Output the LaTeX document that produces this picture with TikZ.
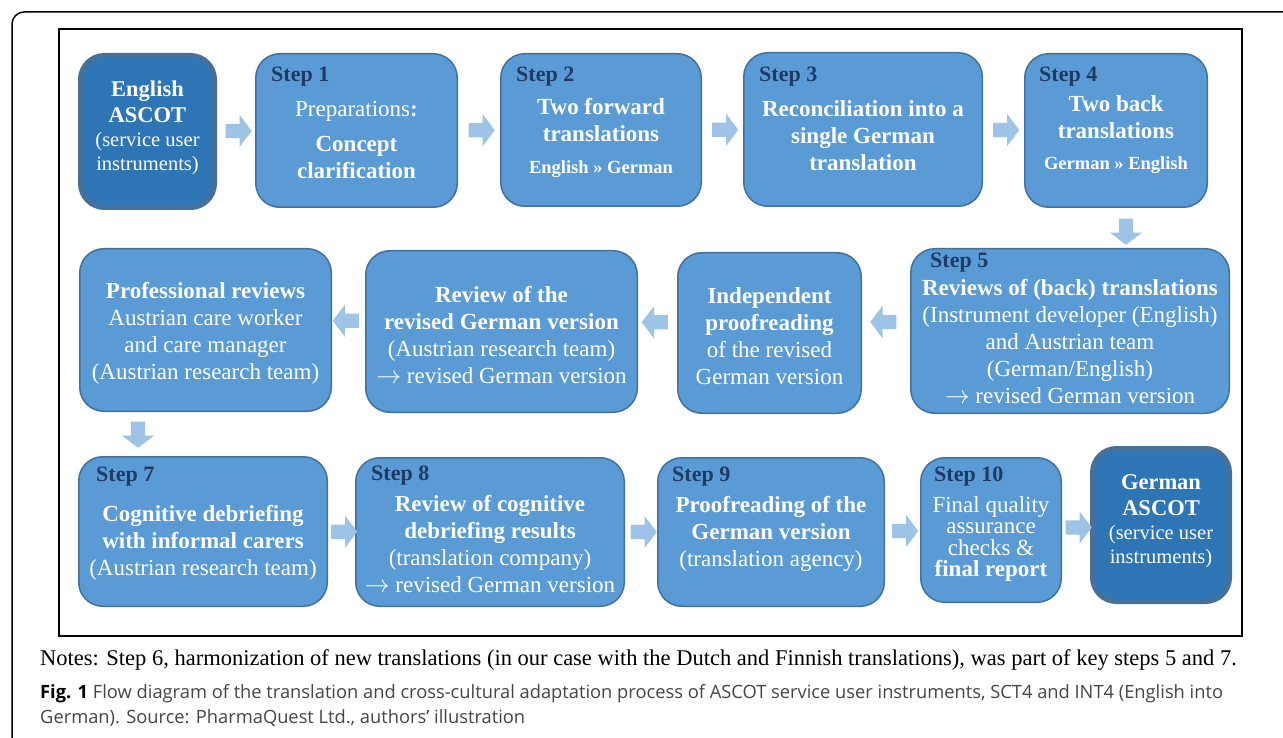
\documentclass[tikz,border=0pt]{standalone}
\usepackage{fontspec}
\setmainfont{Liberation Serif}
\newfontfamily\capfont{Open Sans}
\usetikzlibrary{positioning,calc,shapes.arrows}
\definecolor{boxblue}{HTML}{5B9BD5}
\definecolor{boxedge}{HTML}{41719C}
\definecolor{endblue}{HTML}{2E75B6}
\definecolor{endedge}{HTML}{46709A}
\definecolor{stepblue}{HTML}{1F3B63}
\definecolor{arrblue}{HTML}{9DC3E6}
\definecolor{capgray}{HTML}{454545}
\tikzset{
  stepbox/.style={draw=boxedge, line width=1.5pt, fill=boxblue, rounded corners=24pt, inner sep=0pt},
  endbox/.style={draw=endedge, line width=5pt, fill=endblue, rounded corners=24pt, inner sep=0pt},
  boxtext/.style={text=white, align=center, font=\fontsize{23}{27}\selectfont, inner sep=0pt},
  steplbl/.style={text=stepblue, font=\fontsize{22}{24}\selectfont\bfseries, anchor=west, inner sep=0pt},
  rarr/.style={single arrow, fill=arrblue, inner sep=7pt, single arrow head extend=9pt, single arrow tip angle=106, minimum height=26pt},
  larr/.style={rarr, shape border rotate=180},
  darr/.style={rarr, shape border rotate=270}
}
\newcommand{\smallpar}{\fontsize{20.5}{24}\selectfont}
\newcommand{\langpair}{\fontsize{18.5}{22}\selectfont\bfseries}
\newcommand{\yields}{\ensuremath{\rightarrow}}
\begin{document}
\begin{tikzpicture}[x=1pt, y=-1pt]
	\useasboundingbox (0,0) rectangle (1283,738);
	\fill[white] (0,0) rectangle (1283,738);
	\begin{scope}
	  \clip (0,0) rectangle (1283,738);
	  \draw[line width=1.5pt, rounded corners=12pt] (12,12) rectangle (1320,780);
	\end{scope}
	\draw[line width=1.2pt] (59,29) rectangle (1242,636);

	\node[endbox, minimum width=134pt, minimum height=152pt] (eng) at (147.5,131.5) {};
	\node[stepbox, minimum width=201.5pt, minimum height=153.5pt] (s1) at (356.5,130.5) {};
	\node[stepbox, minimum width=200.5pt, minimum height=152.5pt] (s2) at (601,130) {};
	\node[stepbox, minimum width=238.5pt, minimum height=153.5pt] (s3) at (863,129.5) {};
	\node[stepbox, minimum width=182.5pt, minimum height=153.5pt] (s4) at (1116,130.5) {};
	\node[stepbox, minimum width=318.5pt, minimum height=164.5pt] (s5) at (1070,331) {};
	\node[stepbox, minimum width=183.5pt, minimum height=160.5pt] (ind) at (769.5,333) {};
	\node[stepbox, minimum width=271.5pt, minimum height=161.5pt] (rev) at (501.5,331.5) {};
	\node[stepbox, minimum width=251.5pt, minimum height=162.5pt] (prof) at (205.5,330) {};
	\node[stepbox, minimum width=248.5pt, minimum height=149.5pt] (s7) at (203,531.5) {};
	\node[stepbox, minimum width=268.5pt, minimum height=148.5pt] (s8) at (490,532) {};
	\node[stepbox, minimum width=226.5pt, minimum height=148.5pt] (s9) at (771,532) {};
	\node[stepbox, minimum width=140.5pt, minimum height=144.5pt] (s10) at (991,530) {};
	\node[endbox, minimum width=137pt, minimum height=153pt] (ger) at (1161,525) {};

	\node[steplbl] (s1l) at ($(s1.north west)+(16,24)$) {Step 1};
	\node[steplbl] (s2l) at ($(s2.north west)+(16,24)$) {Step 2};
	\node[steplbl] (s3l) at ($(s3.north west)+(16,25)$) {Step 3};
	\node[steplbl] (s4l) at ($(s4.north west)+(15,24)$) {Step 4};
	\node[steplbl] (s5l) at ($(s5.north west)+(20,15)$) {Step 5};
	\node[steplbl] (s7l) at ($(s7.north west)+(18,21)$) {Step 7};
	\node[steplbl] (s8l) at ($(s8.north west)+(16,19)$) {Step 8};
	\node[steplbl] (s9l) at ($(s9.north west)+(15,20)$) {Step 9};
	\node[steplbl] (s10l) at ($(s10.north west)+(14,20)$) {Step 10};

	\node[boxtext, font=\fontsize{22.5}{26}\selectfont] (engt) at (147.5,128) {\textbf{English}\\\textbf{ASCOT}\\[-2pt]{\smallpar (service user}\\[-2pt]{\smallpar instruments)}};
	\node[boxtext] (s1t) at (356.5,140) {Preparations\textbf{:}\\[8pt]\textbf{Concept}\\\textbf{clarification}};
	\node[boxtext] (s2t) at (601,138) {\textbf{Two forward}\\\textbf{translations}\\[5pt]{\langpair English » German}};
	\node[boxtext] (s3t) at (863,136) {\textbf{Reconciliation into a}\\\textbf{single German}\\\textbf{translation}};
	\node[boxtext] (s4t) at (1116,135) {\textbf{Two back}\\\textbf{translations}\\[4pt]{\langpair German » English}};
	\node[boxtext] (s5t) at (1070,342) {\textbf{Reviews of (back) translations}\\(Instrument developer (English)\\and Austrian team\\(German/English)\\\yields{} revised German version};
	\node[boxtext] (indt) at (769.5,336) {\textbf{Independent}\\\textbf{proofreading}\\of the revised\\German version};
	\node[boxtext] (revt) at (501.5,335) {\textbf{Review of the}\\\textbf{revised German version}\\(Austrian research team)\\\yields{} revised German version};
	\node[boxtext] (proft) at (205.5,333) {\textbf{Professional reviews}\\Austrian care worker\\and care manager\\(Austrian research team)};
	\node[boxtext] (s7t) at (203,542.5) {\textbf{Cognitive debriefing}\\\textbf{with informal carers}\\(Austrian research team)};
	\node[boxtext] (s8t) at (490,544.5) {\textbf{Review of cognitive}\\\textbf{debriefing results}\\(translation company)\\\yields{} revised German version};
	\node[boxtext] (s9t) at (771,534) {\textbf{Proofreading of the}\\\textbf{German version}\\(translation agency)};
	\node[boxtext, font=\fontsize{23}{21.5}\selectfont] (s10t) at (991,539) {Final quality\\assurance\\checks \&\\\textbf{final report}};
	\node[boxtext, font=\fontsize{22.5}{26}\selectfont] (gert) at (1161,521) {\textbf{German}\\\textbf{ASCOT}\\[-2pt]{\smallpar (service user}\\[-2pt]{\smallpar instruments)}};

	\foreach \a/\b in {eng/s1,s1/s2,s2/s3,s3/s4,s7/s8,s8/s9,s9/s10,s10/ger}
	  \node[rarr] (\a-\b) at ($(\a.east)!0.5!(\b.west)$) {};
	\foreach \a/\b in {s5/ind,ind/rev,rev/prof}
	  \node[larr] (\a-\b) at ($(\a.west)!0.5!(\b.east)+(0,-10)$) {};
	\node[darr] (s4-s5) at ($(s4.south)+(10,21)$) {};
	\node[darr] (prof-s7) at ($(prof.south)+(-67.5,20)$) {};

	\node[anchor=base west, inner sep=0pt, font=\fontsize{22.5}{24}\selectfont] (notes) at (40,665) {Notes: Step 6, harmonization of new translations (in our case with the Dutch and Finnish translations), was part of key steps 5 and 7.};
	\node[anchor=north west, inner sep=0pt, align=left, text=capgray, font=\capfont\fontsize{18.3}{25}\selectfont] (caption) at (40,684) {\textbf{\color{black}Fig. 1} Flow diagram of the translation and cross-cultural adaptation process of ASCOT service user instruments, SCT4 and INT4 (English into\\German). Source: PharmaQuest Ltd., authors’ illustration};
\end{tikzpicture}
\end{document}
